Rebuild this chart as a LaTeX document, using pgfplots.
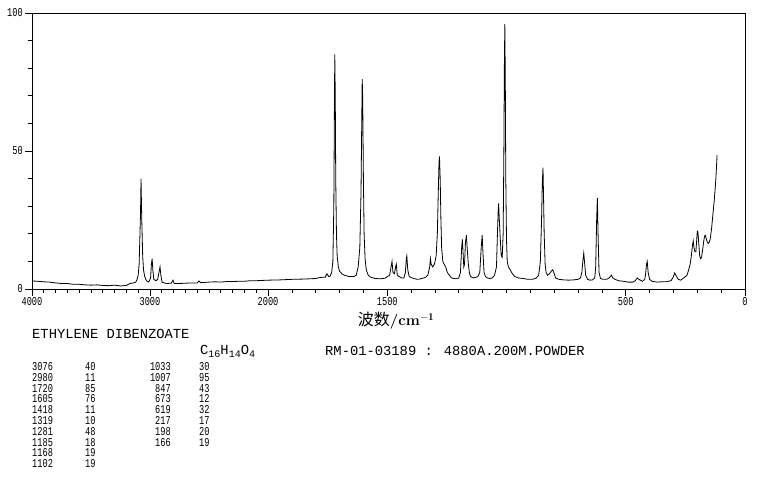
\documentclass[border=0pt]{standalone}
\usepackage{pgfplots}
\pgfplotsset{compat=1.18}
\usepackage{pgfplotstable}
\usepackage{fontspec}
\newfontfamily\cjk{Noto Sans CJK SC}
\newfontfamily\plotmono{Liberation Mono}
\newfontfamily\narrowmono[FakeStretch=0.72]{Liberation Mono}

\pgfplotstableread{
w I
4000 2.9
3950 2.8
3900 2.6
3850 2.5
3800 2.2
3750 2.0
3700 2.0
3650 1.7
3600 1.7
3550 1.5
3500 1.4
3450 1.5
3400 1.3
3350 1.2
3300 1.4
3250 1.1
3200 1.3
3170 2.0
3140 2.2
3120 2.5
3110 3.5
3100 5
3092 9
3085 20
3080 28
3076 40
3072 30
3068 22
3062 12
3055 7
3045 4.5
3030 3
3010 2.5
2995 4
2988 9
2982 11
2976 7
2968 3.5
2950 3
2935 3.5
2915 8
2908 5
2898 2.5
2880 2.2
2860 2.0
2820 2.1
2805 3.2
2795 2.0
2750 2.0
2700 2.1
2650 2.2
2600 2.2
2585 2.9
2570 2.3
2500 2.5
2450 2.6
2400 2.5
2350 2.7
2300 2.7
2250 2.8
2200 2.8
2150 3.0
2100 3.0
2050 3.1
2000 3.2
1950 3.3
1900 3.5
1850 3.6
1800 3.8
1780 4.2
1760 4.3
1753 5.5
1745 4.5
1740 4.6
1733 6
1728 10
1724 30
1722 60
1720 85
1718 70
1716 40
1713 20
1710 12
1705 8
1700 6.5
1690 5.5
1680 5
1660 4.5
1640 4.5
1630 5
1622 8
1615 15
1610 35
1607 60
1605 76
1603 70
1600 40
1597 20
1593 11
1588 7
1580 5
1570 4.3
1550 3.8
1530 3.7
1510 3.9
1500 4.5
1490 5
1484 8
1480 10
1476 6
1470 5.5
1465 8
1462 9
1458 5
1450 4.5
1440 4
1430 4
1424 6
1420 11
1418 12
1414 7
1408 4.5
1395 4
1380 3.6
1370 3.5
1355 3.8
1340 4.2
1330 5
1322 8
1319 11
1316 9
1310 8
1302 9
1295 12
1290 20
1286 35
1283 46
1281 48
1278 40
1275 25
1272 15
1267 10
1262 9
1255 8
1248 6
1240 5
1230 4
1220 3.8
1210 3.7
1200 4
1193 6
1188 15
1185 18
1182 13
1179 8
1176 9
1172 17
1168 19.5
1165 15
1160 9
1155 5.5
1150 4.5
1140 4
1130 4.2
1120 4.5
1112 6
1106 15
1102 19.5
1098 12
1094 6
1088 4.5
1080 4
1070 3.8
1060 4
1050 5
1042 8
1038 20
1035 28
1033 31
1030 25
1026 18
1022 12
1018 11.5
1014 20
1011 50
1009 80
1007 96
1005 75
1003 40
1000 18
997 10
992 8
985 7
975 5.5
965 4.5
950 4
930 3.8
910 3.5
890 3.5
875 4
865 5
858 10
853 25
850 38
847 44
845 35
842 20
838 9
834 6
828 5
820 5.5
812 6.5
806 7
800 5.5
794 4
780 3.5
760 3.3
740 3.2
720 3.3
700 3.5
690 4
684 6
680 10
676 13
673 10
668 5
660 3.5
650 3.2
640 3.3
630 4
626 8
622 25
619 33
616 20
612 6
606 3.8
595 3.5
580 3.5
570 4
560 5
554 4
545 3.5
530 3
510 2.8
490 2.5
470 2.5
460 3
452 4
445 3.5
430 2.8
420 3.5
416 6
413 9
410 10
406 6
400 3.5
390 2.8
370 2.5
350 2.6
330 2.6
310 3
300 4.5
295 5.8
290 5
280 3.5
270 3.2
260 3.8
250 4.5
243 5
236 7
230 9
225 12
220 16
217 17.4
214 15
210 13.5
206 13.5
203 17
200 21
198 21
195 18
190 12
186 11
182 11.5
178 14
172 18
168 19.5
166 19.5
162 18
158 17
154 16.5
150 17
146 18
140 22
134 27.5
128 33
122 40
117 48.5
}\spectrum

\newcommand{\sub}[1]{\raisebox{-3pt}{\fontsize{10}{10}\selectfont #1}}

\begin{document}
\begin{tikzpicture}
\begin{axis}[
  at={(0pt,0pt)}, anchor=south west,
  scale only axis,
  width=713pt, height=276pt,
  x dir=reverse,
  x coord trafo/.code={\pgfmathparse{#1>2000 ? 2000+(#1-2000)*0.4948 : #1}},
  x coord inv trafo/.code={\pgfmathparse{#1>2000 ? 2000+(#1-2000)/0.4948 : #1}},
  xmin=0, xmax=4000,
  ymin=0, ymax=100,
  xtick={0,500,1500,2000,3000,4000},
  xticklabels={0,500,1500,2000,3000,4000},
  minor xtick={100,200,...,3900},
  ytick={0,50,100},
  yticklabels={0,50,100},
  minor ytick={10,20,30,40,60,70,80,90},
  tick align=outside,
  xtick pos=bottom, ytick pos=left,
  major tick length=7pt,
  minor tick length=4pt,
  tick style={black, line width=0.7pt},
  axis line style={line width=0.9pt},
  xticklabel style={font=\narrowmono\fontsize{12}{12}\selectfont, inner sep=0pt, anchor=north, yshift=-1.5pt},
  yticklabel style={font=\narrowmono\fontsize{12}{12}\selectfont, inner sep=0pt, anchor=east, xshift=-2pt},
  clip=true,
]
\addplot[black, line width=0.8pt, no marks] table[x=w, y=I] {\spectrum};
\end{axis}

\node[anchor=center, inner sep=0pt] at (364pt,-32pt)
  {{\cjk\fontsize{16}{16}\selectfont 波数}\fontsize{15}{15}\selectfont\textbf{/cm}$^{\mathbf{-1}}$};

\node[anchor=base west, inner sep=0pt, font=\plotmono\fontsize{13.8}{14}\selectfont] at (0pt,-49pt) {ETHYLENE DIBENZOATE};
\node[anchor=base west, inner sep=0pt, font=\plotmono\fontsize{13.8}{14}\selectfont] at (168pt,-65pt) {C\sub{16}H\sub{14}O\sub{4}};
\node[anchor=base west, inner sep=0pt, font=\plotmono\fontsize{13.8}{14}\selectfont] at (293pt,-66pt) {RM-01-03189 : 4880A.200M.POWDER};

\foreach \a/\b/\c/\d [count=\i from 0] in {3076/40/1033/30, 2980/11/1007/95, 1720/85/847/43, 1605/76/673/12, 1418/11/619/32, 1319/10/217/17, 1281/48/198/20, 1185/18/166/19, 1168/19//, 1102/19//} {
  \pgfmathsetmacro{\yy}{-81.5-10.8*\i}
  \node[anchor=base west, inner sep=0pt, font=\narrowmono\fontsize{12}{12}\selectfont] at (0pt,\yy pt) {\a};
  \node[anchor=base west, inner sep=0pt, font=\narrowmono\fontsize{12}{12}\selectfont] at (53pt,\yy pt) {\b};
  \node[anchor=base east, inner sep=0pt, font=\narrowmono\fontsize{12}{12}\selectfont] at (139pt,\yy pt) {\c};
  \node[anchor=base west, inner sep=0pt, font=\narrowmono\fontsize{12}{12}\selectfont] at (167pt,\yy pt) {\d};
}

\pgfresetboundingbox
\path[use as bounding box] (-32pt,-188pt) rectangle (729pt,289pt);
\end{tikzpicture}
\end{document}
